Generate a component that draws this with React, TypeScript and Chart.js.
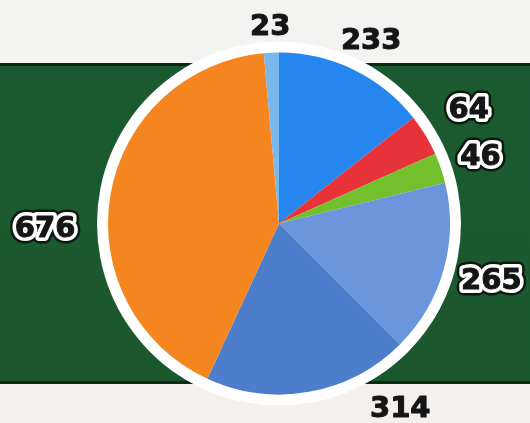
import React, { useEffect, useRef } from "react";
import { Chart, registerables } from "chart.js";

Chart.register(...registerables);

const categories = ["Blue", "Red", "Green", "Cornflower", "Steel", "Orange", "Sky"];
const values = [233, 64, 46, 265, 314, 676, 23];
const sliceColors = ["#2586ef", "#e8333a", "#72c02c", "#6c96dc", "#4d7ecb", "#f5861f", "#7ab7ec"];
const labelTexts = values.map((v) => String(v));
const labelOutlined = [false, true, true, true, false, true, false];
const labelAngleOffsetDeg = [1, 0.3, 0.8, -0.4, -23, -11.3, 0];
const labelDistance = [33, 50, 41, 49, 51, 63, 25];

const ringPlugin = {
  id: "ring",
  beforeDatasetsDraw(chart: any) {
    const meta = chart.getDatasetMeta(0);
    const arc = meta.data[0];
    if (!arc) return;
    const { x, y, outerRadius } = arc.getProps(["x", "y", "outerRadius"], true);
    const ctx = chart.ctx;
    ctx.save();
    ctx.beginPath();
    ctx.arc(x, y, outerRadius + 11, 0, Math.PI * 2);
    ctx.fillStyle = "#ffffff";
    ctx.fill();
    ctx.restore();
  },
};

const labelPlugin = {
  id: "outerLabels",
  afterDatasetsDraw(chart: any) {
    const meta = chart.getDatasetMeta(0);
    const ctx = chart.ctx;
    ctx.save();
    ctx.font = "bold 29px 'DejaVu Sans', sans-serif";
    ctx.textAlign = "center";
    ctx.textBaseline = "middle";
    ctx.lineJoin = "round";
    meta.data.forEach((arc: any, i: number) => {
      const { x, y, startAngle, endAngle, outerRadius } = arc.getProps(
        ["x", "y", "startAngle", "endAngle", "outerRadius"],
        true
      );
      const mid = (startAngle + endAngle) / 2 + (labelAngleOffsetDeg[i] * Math.PI) / 180;
      const r = outerRadius + labelDistance[i];
      const lx = x + Math.cos(mid) * r;
      const ly = y + Math.sin(mid) * r;
      if (labelOutlined[i]) {
        ctx.lineWidth = 13;
        ctx.strokeStyle = "#0a1a0e";
        ctx.strokeText(labelTexts[i], lx, ly);
        ctx.lineWidth = 8;
        ctx.strokeStyle = "#ffffff";
        ctx.strokeText(labelTexts[i], lx, ly);
      }
      ctx.lineWidth = 1;
      ctx.strokeStyle = "#151515";
      ctx.strokeText(labelTexts[i], lx, ly);
      ctx.fillStyle = "#151515";
      ctx.fillText(labelTexts[i], lx, ly);
    });
    ctx.restore();
  },
};

export default function App() {
  const canvasRef = useRef<HTMLCanvasElement | null>(null);

  useEffect(() => {
    const canvas = canvasRef.current;
    if (!canvas) return;
    const chart = new Chart(canvas, {
      type: "pie",
      data: {
        labels: categories,
        datasets: [
          {
            data: values,
            backgroundColor: sliceColors,
            borderWidth: 0,
          },
        ],
      },
      options: {
        responsive: false,
        animation: false,
        devicePixelRatio: 1,
        layout: { padding: { left: 108, right: 80, top: 52, bottom: 28 } },
        plugins: {
          legend: { display: false },
          tooltip: { enabled: false },
        },
      },
      plugins: [ringPlugin, labelPlugin],
    });
    return () => chart.destroy();
  }, []);

  return (
    <div
      style={{
        position: "fixed",
        left: 0,
        top: 0,
        width: 530,
        height: 423,
        background:
          "linear-gradient(to bottom, #f3f3f1 0px, #f3f3f1 63px, #0b2912 63px, #0b2912 66px, #1b5a30 66px, #1b582e 381px, #0d2a14 381px, #0d2a14 384px, #f3f0ee 384px, #f3f0ee 423px)",
      }}
    >
      <canvas ref={canvasRef} width={530} height={423} />
    </div>
  );
}
